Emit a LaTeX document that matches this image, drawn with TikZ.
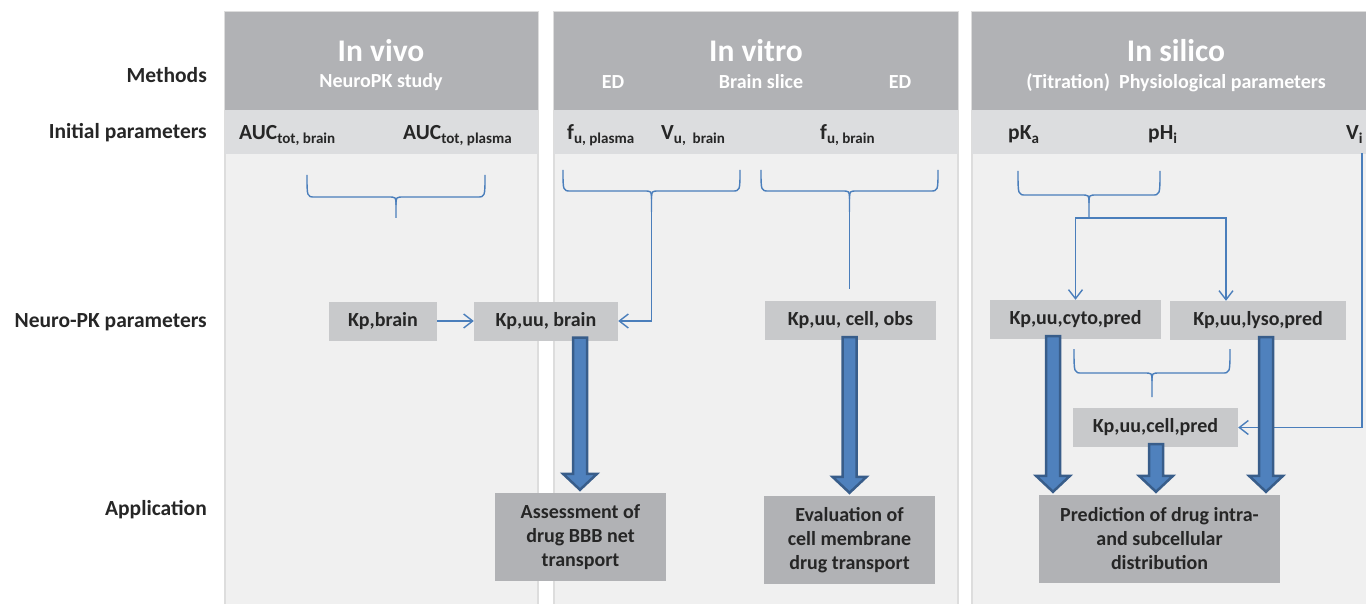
\documentclass[tikz,border=0pt]{standalone}
\usepackage{fontspec}
\setmainfont{Carlito}
\usetikzlibrary{arrows.meta,calc}
\definecolor{hdrc}{HTML}{B1B2B5}
\definecolor{prowc}{HTML}{DCDDDF}
\definecolor{bodyc}{HTML}{F0F0F0}
\definecolor{edgec}{HTML}{DDDDDD}
\definecolor{kboxc}{HTML}{C8C9CB}
\definecolor{aboxc}{HTML}{B1B2B5}
\definecolor{lineblue}{HTML}{4A7EBB}
\definecolor{arrfill}{HTML}{4F81BD}
\definecolor{arrdraw}{HTML}{385D8A}
\definecolor{txtc}{HTML}{262626}
\newcommand\myrowfont{\fontsize{21.5}{24}\selectfont\bfseries}
\newcommand\myparfont{\fontsize{21.5}{24}\selectfont\bfseries}
\newcommand\myboxfont{\fontsize{20}{24}\selectfont\bfseries}
\newcommand\mytitlefont{\fontsize{31.5}{36}\selectfont\bfseries}
\newcommand\mysubfont{\fontsize{20}{24}\selectfont\bfseries}
\newcommand\mybrace[5]{%
  \draw[conn] (#1,#3) .. controls (#1,#4) .. ({#1+8},#4) -- ({(#1+#2)/2-8},#4) .. controls ({(#1+#2)/2},#4) .. ({(#1+#2)/2},{#4+8}) -- ({(#1+#2)/2},#5);
  \draw[conn] (#2,#3) .. controls (#2,#4) .. ({#2-8},#4) -- ({(#1+#2)/2+8},#4) .. controls ({(#1+#2)/2},#4) .. ({(#1+#2)/2},{#4+8});}
\newcommand\blockarrow[3]{%
  \path[blockarr] let \p1=(#2.south), \p2=(#3.north) in
   ({#1pt-7pt},{\y1+3pt}) -- ({#1pt+7pt},{\y1+3pt}) -- ({#1pt+7pt},{\y2+19pt}) -- ({#1pt+17pt},{\y2+19pt}) -- ({#1pt},{\y2+3pt}) -- ({#1pt-17pt},{\y2+19pt}) -- ({#1pt-7pt},{\y2+19pt}) -- cycle;}
\tikzset{
  panelbody/.style={fill=bodyc, draw=edgec, line width=1.5pt},
  hdrbox/.style={fill=hdrc},
  prowbox/.style={fill=prowc},
  kbox/.style={fill=kboxc, text=txtc, font=\myboxfont, inner sep=0pt, minimum height=39pt},
  appbox/.style={fill=aboxc, text=txtc, font=\myboxfont, align=center, inner sep=0pt, minimum height=88pt},
  conn/.style={draw=lineblue, line width=1.4pt},
  barbtip/.style={-{Straight Barb[length=9pt,width=14pt]}},
  blockarr/.style={fill=arrfill, draw=arrdraw, line width=2.5pt, line join=miter},
  rowlab/.style={anchor=base east, text=txtc, font=\myrowfont, inner sep=0pt},
  param/.style={anchor=base west, text=txtc, font=\myparfont, inner sep=0pt},
  hdrtitle/.style={anchor=base, text=white, font=\mytitlefont, inner sep=0pt},
  hdrsub/.style={anchor=base, text=white, font=\mysubfont, inner sep=0pt},
}
\begin{document}
\begin{tikzpicture}[x=1pt,y=-1pt]
\useasboundingbox (0,0) rectangle (1366,604);
\fill[white] (0,0) rectangle (1366,604);
% panels
\path[panelbody] (225,12) rectangle (538,606);
\path[hdrbox] (225,12) rectangle (538,110);
\path[prowbox] (225,110) rectangle (538,154);
\path[panelbody] (554,12) rectangle (958,606);
\path[hdrbox] (554,12) rectangle (958,110);
\path[prowbox] (554,110) rectangle (958,154);
\path[panelbody] (972,12) rectangle (1368,606);
\path[hdrbox] (972,12) rectangle (1368,110);
\path[prowbox] (972,110) rectangle (1368,154);
% row labels
\node[rowlab] (lm) at (207,83) {Methods};
\node[rowlab] (li) at (207,139) {Initial parameters};
\node[rowlab] (ln) at (207,327) {Neuro-PK parameters};
\node[rowlab] (la) at (207,515) {Application};
% headers
\node[hdrtitle] (t1) at (381,62) {In vivo};
\node[hdrsub] (s1) at (381,88) {NeuroPK study};
\node[hdrtitle] (t2) at (756,62) {In vitro};
\node[hdrsub] (s2a) at (613,89) {ED};
\node[hdrsub] (s2b) at (761,89) {Brain slice};
\node[hdrsub] (s2c) at (900,89) {ED};
\node[hdrtitle] (t3) at (1176,62) {In silico};
\node[hdrsub] (s3) at (1176,89) {(Titration)\ \ Physiological parameters};
% initial parameters
\node[param] (p1) at (239,140) {AUC\textsubscript{tot, brain}};
\node[param] (p2) at (403,140) {AUC\textsubscript{tot, plasma}};
\node[param] (p3) at (567,140) {f\textsubscript{u, plasma}};
\node[param] (p4) at (661,140) {V\textsubscript{u,\ \ brain}};
\node[param] (p5) at (820,140) {f\textsubscript{u, brain}};
\node[param] (p6) at (1008,140) {pK\textsubscript{a}};
\node[param] (p7) at (1148,140) {pH\textsubscript{i}};
\node[param] (p8) at (1346,140) {V\textsubscript{i}};
% boxes
\node[kbox, minimum width=108pt] (kpb) at (383,321) {Kp,brain};
\node[kbox, minimum width=144pt] (kpuub) at (546,321) {Kp,uu, brain};
\node[kbox, minimum width=171pt] (kpuuco) at (850.5,320.5) {Kp,uu, cell, obs};
\node[kbox, minimum width=171pt] (cyto) at (1075.5,319.5) {Kp,uu,cyto,pred};
\node[kbox, minimum width=176pt] (lyso) at (1258,320.5) {Kp,uu,lyso,pred};
\node[kbox, minimum width=165pt] (cellpred) at (1155.5,427.5) {Kp,uu,cell,pred};
\node[appbox, minimum width=171pt] (assess) at (580.5,537) {Assessment of\\drug BBB net\\transport};
\node[appbox, minimum width=171pt] (evalb) at (849.5,540) {Evaluation of\\cell membrane\\drug transport};
\node[appbox, minimum width=241pt] (predb) at (1159.5,539) {Prediction of drug intra-\\and subcellular\\distribution};
% braces
\mybrace{307}{485}{175}{197}{218}
\mybrace{563}{740}{170}{191}{212}
\mybrace{761}{938}{170}{191}{212}
\mybrace{1018}{1160}{171}{195}{218}
\mybrace{1074}{1230}{349}{373}{397}
\coordinate (b2) at (651.5,212);
\coordinate (b3) at (849.5,212);
\coordinate (b3end) at (849.5,289);
\coordinate (b4) at (1089,218);
\coordinate (lx) at (1226,0);
\coordinate (vistart) at (1362,153);
% connectors
\draw[conn, barbtip] (kpb.east) -- (kpuub.west);
\draw[conn, barbtip] (b2) |- (kpuub.east);
\draw[conn] (b3) -- (b3end);
\draw[conn, barbtip] (b4) -| (cyto.north);
\draw[conn, barbtip] (b4) -| (lx |- lyso.north);
\draw[conn, barbtip] (vistart) |- (cellpred.east);
% block arrows
\blockarrow{580}{kpuub}{assess}
\blockarrow{849.5}{kpuuco}{evalb}
\blockarrow{1053}{cyto}{predb}
\blockarrow{1156}{cellpred}{predb}
\blockarrow{1266}{lyso}{predb}
\end{tikzpicture}
\end{document}
